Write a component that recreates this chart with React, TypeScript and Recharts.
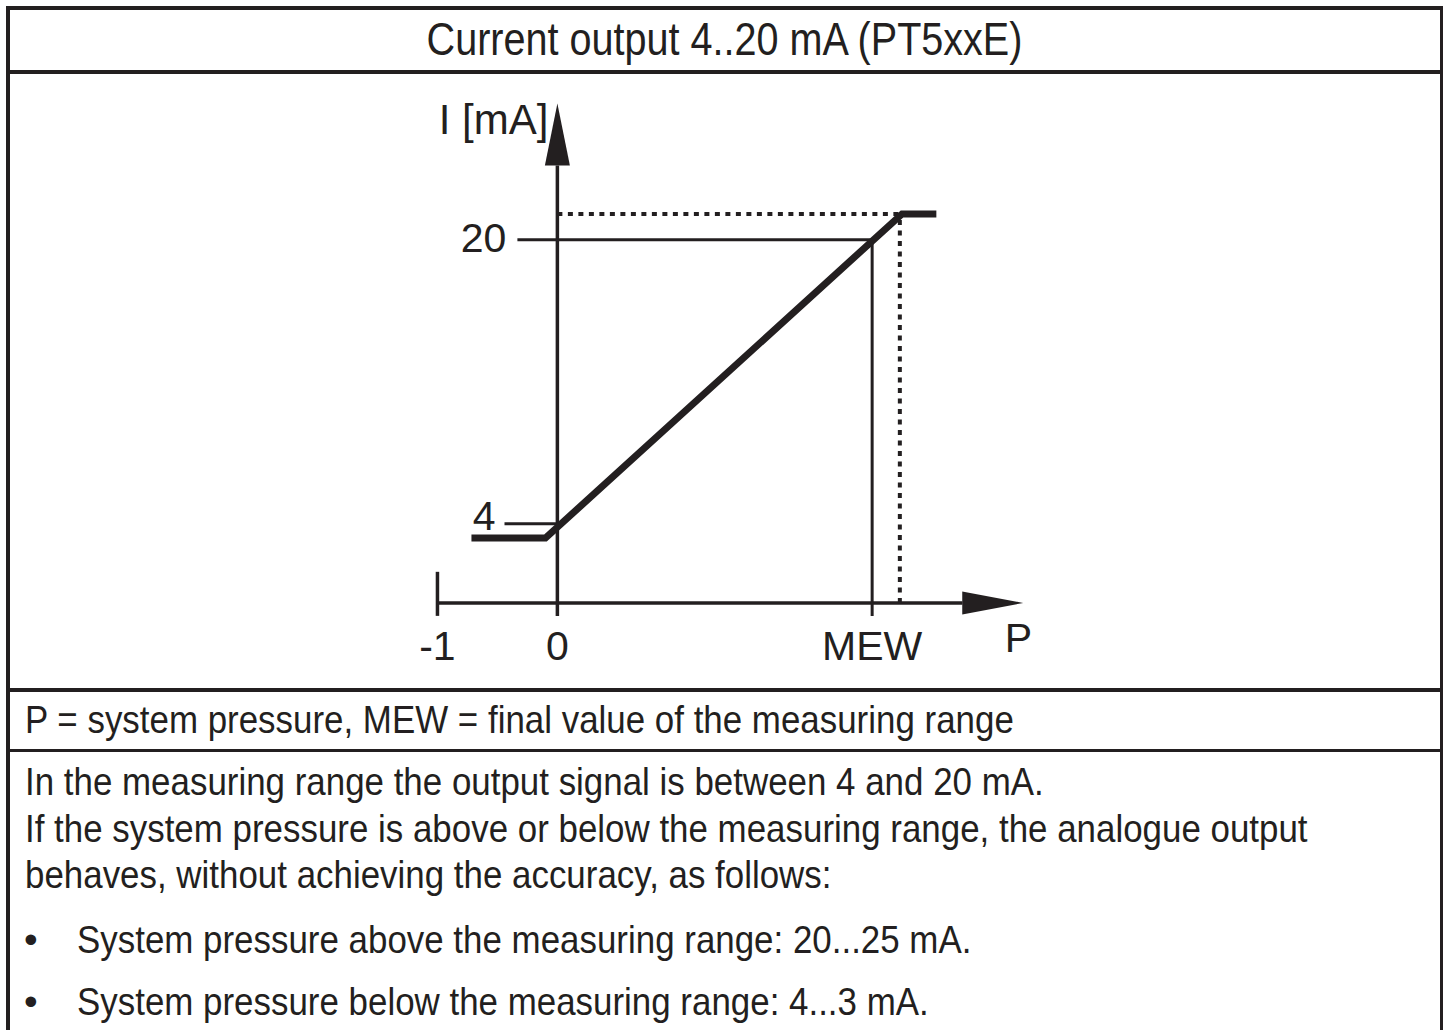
import React from "react";
import { LineChart, Line, XAxis, YAxis, ReferenceLine, ReferenceDot } from "recharts";

const INK = "#231f20";
const CHART_FONT = "'Liberation Sans', Arial, sans-serif";
const TEXT_FONT = "'Liberation Sans', Arial, sans-serif";

// output curve: pressure (P) vs current (I), MEW = 10
const pPoints = [-2.73, -0.38, 10.95, 12.04];
const iPoints = [3.2, 3.2, 21.45, 21.45];

const xTickValues = [-3.81, 0, 10];
const xTickLabels = ["-1", "0", "MEW"];
const yTickValues = [4, 20];
const yTickLabels = ["4", "20"];
const yTickStarts = [-1.68, -1.27];

const X_DOMAIN = [-5, 16];
const Y_DOMAIN = [-6, 30];
const X_AXIS_Y = -0.45;
const X_AXIS_END = 12.87;
const X_ARROW_TIP = 14.8;
const Y_AXIS_BOTTOM = -1.18;
const Y_AXIS_END = 24.17;
const Y_ARROW_TIP = 27.66;
const MINUS_ONE_TICK_TOP = 1.3;
const MEW = 10;
const OVER_I = 21.45;
const OVER_P = 10.88;

const data = pPoints.map((p, i) => ({ p, i: iPoints[i] }));

const bodyLines = [
  "In the measuring range the output signal is between 4 and 20 mA.",
  "If the system pressure is above or below the measuring range, the analogue output",
  "behaves, without achieving the accuracy, as follows:",
];
const bullets = [
  "System pressure above the measuring range: 20...25 mA.",
  "System pressure below the measuring range: 4...3 mA.",
];

const labelStyle = { fill: INK, fontSize: 41, fontFamily: CHART_FONT };

function UpArrow(props: any) {
  const { cx, cy } = props;
  return <path d={`M${cx},${cy} L${cx + 12.5},${cy + 62} L${cx - 12.5},${cy + 62} Z`} fill={INK} />;
}

function RightArrow(props: any) {
  const { cx, cy } = props;
  return <path d={`M${cx},${cy} L${cx - 61},${cy - 11.5} L${cx - 61},${cy + 11.5} Z`} fill={INK} />;
}

const noDot = () => <g />;

function OutputChart() {
  return (
    <LineChart
      width={661}
      height={639.5}
      data={data}
      margin={{ top: 0, right: 0, bottom: 0, left: 0 }}
    >
      <XAxis type="number" dataKey="p" domain={X_DOMAIN} hide allowDataOverflow />
      <YAxis type="number" domain={Y_DOMAIN} hide allowDataOverflow />

      {/* axes */}
      <ReferenceLine segment={[{ x: xTickValues[0], y: X_AXIS_Y }, { x: X_AXIS_END, y: X_AXIS_Y }]} stroke={INK} strokeWidth={3.5} />
      <ReferenceLine segment={[{ x: 0, y: Y_AXIS_BOTTOM }, { x: 0, y: Y_AXIS_END }]} stroke={INK} strokeWidth={3.5} />
      <ReferenceLine segment={[{ x: xTickValues[0], y: Y_AXIS_BOTTOM }, { x: xTickValues[0], y: MINUS_ONE_TICK_TOP }]} stroke={INK} strokeWidth={3.5} />
      <ReferenceDot x={0} y={Y_ARROW_TIP} r={0} shape={UpArrow} />
      <ReferenceDot x={X_ARROW_TIP} y={X_AXIS_Y} r={0} shape={RightArrow} />

      {/* y ticks */}
      <ReferenceLine segment={[{ x: yTickStarts[0], y: yTickValues[0] }, { x: 0, y: yTickValues[0] }]} stroke={INK} strokeWidth={3} />
      <ReferenceLine segment={[{ x: yTickStarts[1], y: yTickValues[1] }, { x: MEW, y: yTickValues[1] }]} stroke={INK} strokeWidth={3} />
      <ReferenceLine segment={[{ x: MEW, y: Y_AXIS_BOTTOM }, { x: MEW, y: yTickValues[1] }]} stroke={INK} strokeWidth={3} />

      {/* overrange dotted */}
      <ReferenceLine segment={[{ x: 0, y: OVER_I }, { x: OVER_P, y: OVER_I }]} stroke={INK} strokeWidth={4} strokeDasharray="5 5.5" />
      <ReferenceLine segment={[{ x: OVER_P, y: X_AXIS_Y }, { x: OVER_P, y: OVER_I }]} stroke={INK} strokeWidth={4} strokeDasharray="5 5.5" />

      <Line
        type="linear"
        dataKey="i"
        stroke={INK}
        strokeWidth={7}
        strokeLinejoin="miter"
        dot={false}
        activeDot={false}
        isAnimationActive={false}
      />

      {/* labels */}
      {xTickValues.map((v, k) => (
        <ReferenceDot
          key={"xl" + k}
          x={v}
          y={X_AXIS_Y}
          r={0}
          shape={noDot}
          label={{ value: xTickLabels[k], position: "bottom", offset: 28, ...labelStyle }}
        />
      ))}
      <ReferenceDot
        x={yTickStarts[0]}
        y={4.5}
        r={0}
        shape={noDot}
        label={{ value: yTickLabels[0], position: "left", offset: 9, ...labelStyle }}
      />
      <ReferenceDot
        x={yTickStarts[1]}
        y={20.1}
        r={0}
        shape={noDot}
        label={{ value: yTickLabels[1], position: "left", offset: 11, ...labelStyle }}
      />
      <ReferenceDot
        x={0}
        y={26.8}
        r={0}
        shape={noDot}
        label={{ value: "I [mA]", position: "left", offset: 9, ...labelStyle, fontSize: 42 }}
      />
      <ReferenceDot
        x={14.65}
        y={X_AXIS_Y}
        r={0}
        shape={noDot}
        label={{ value: "P", position: "bottom", offset: 20, ...labelStyle }}
      />
    </LineChart>
  );
}

const abs = (s: React.CSSProperties): React.CSSProperties => ({ position: "absolute", ...s });
const textBase: React.CSSProperties = { fontFamily: TEXT_FONT, color: INK, lineHeight: 1, whiteSpace: "nowrap" };
const narrow = (k: number, origin = "left"): React.CSSProperties => ({
  transform: `scaleX(${k})`,
  transformOrigin: `${origin} top`,
});

export default function App() {
  const lineTops = [762, 809, 855];
  const bulletTops = [920, 982];
  return (
    <div style={abs({ left: 0, top: 0, width: 1447, height: 1030, background: "#fff", overflow: "hidden" })}>
      <style>{`body{margin:0;overflow:hidden}`}</style>
      {/* frame */}
      <div style={abs({ left: 6, top: 6, width: 1437, height: 3.5, background: INK })} />
      <div style={abs({ left: 6, top: 6, width: 3.5, height: 1030, background: INK })} />
      <div style={abs({ left: 1439.5, top: 6, width: 3.5, height: 1030, background: INK })} />
      <div style={abs({ left: 6, top: 70, width: 1437, height: 3.5, background: INK })} />
      <div style={abs({ left: 6, top: 688, width: 1437, height: 3.5, background: INK })} />
      <div style={abs({ left: 6, top: 748.5, width: 1437, height: 3.5, background: INK })} />

      <div style={abs({ ...textBase, ...narrow(0.86, "center"), left: 6, width: 1437, top: 16, fontSize: 46, textAlign: "center" })}>
        Current output 4..20 mA (PT5xxE)
      </div>

      <div style={abs({ left: 400, top: 61.5 })}>
        <OutputChart />
      </div>

      <div style={abs({ ...textBase, ...narrow(0.895), left: 25, top: 700, fontSize: 39 })}>
        P = system pressure, MEW = final value of the measuring range
      </div>

      {bodyLines.map((t, k) => (
        <div key={"b" + k} style={abs({ ...textBase, ...narrow(0.895), left: 25, top: lineTops[k], fontSize: 39 })}>
          {t}
        </div>
      ))}
      {bullets.map((t, k) => (
        <React.Fragment key={"u" + k}>
          <div style={abs({ ...textBase, left: 24, top: bulletTops[k], fontSize: 39 })}>•</div>
          <div style={abs({ ...textBase, ...narrow(0.895), left: 77, top: bulletTops[k], fontSize: 39 })}>{t}</div>
        </React.Fragment>
      ))}
    </div>
  );
}
